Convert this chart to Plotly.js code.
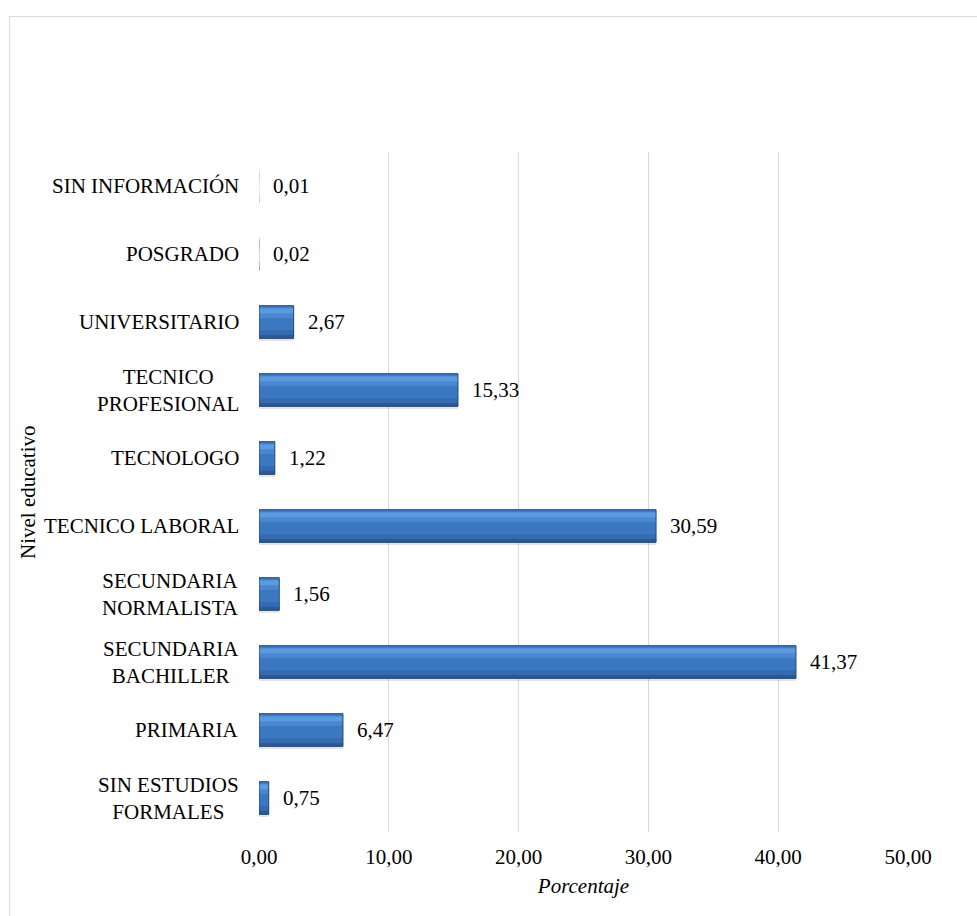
<!DOCTYPE html>
<html>
<head>
<meta charset="utf-8">
<script src="https://cdn.plot.ly/plotly-3.0.1.min.js"></script>
<style>
  html, body { margin: 0; padding: 0; background: #ffffff; overflow: hidden; }
  #frame { position: absolute; left: 9px; top: 16px; width: 1200px; height: 1200px; border: 1px solid #d9d9d9; box-sizing: border-box; pointer-events: none; }
  #chart { position: absolute; left: 0; top: 0; width: 977px; height: 916px; }
</style>
</head>
<body>
<div id="frame"></div>
<div id="chart"></div>
<script>
// Categories (bottom to top)
const categories = [
  "SIN ESTUDIOS FORMALES",
  "PRIMARIA",
  "SECUNDARIA BACHILLER",
  "SECUNDARIA NORMALISTA",
  "TECNICO LABORAL",
  "TECNOLOGO",
  "TECNICO PROFESIONAL",
  "UNIVERSITARIO",
  "POSGRADO",
  "SIN INFORMACIÓN"
];
const categoryLabels = [
  "SIN ESTUDIOS<br>FORMALES",
  "PRIMARIA",
  "SECUNDARIA<br>BACHILLER",
  "SECUNDARIA<br>NORMALISTA",
  "TECNICO LABORAL",
  "TECNOLOGO",
  "TECNICO<br>PROFESIONAL",
  "UNIVERSITARIO",
  "POSGRADO",
  "SIN INFORMACIÓN"
];
const values = [0.75, 6.47, 41.37, 1.56, 30.59, 1.22, 15.33, 2.67, 0.02, 0.01];
const xTickValues = [0, 10, 20, 30, 40, 50];

const FONT = "Liberation Serif";
const fmt = v => v.toFixed(2).replace('.', ',');

const BAR_W = 0.48;
const outlineWidths = values.map(v => (v < 0.1 ? 0 : 1));
const traces = [
  // soft shadow below bars
  { type: 'bar', orientation: 'h', x: values, y: categories,
    width: 0.05, offset: -0.28,
    marker: { color: 'rgba(0,0,0,0.10)', line: { width: 0 } }, hoverinfo: 'skip' },
  { type: 'bar', orientation: 'h', x: values, y: categories,
    width: BAR_W, offset: -BAR_W / 2,
    marker: { color: '#3c77c1', line: { width: 0 } }, hoverinfo: 'skip' },
  // top highlight
  { type: 'bar', orientation: 'h', x: values, y: categories,
    width: 0.15, offset: 0.06,
    marker: { color: '#4a87cf', line: { width: 0 } }, hoverinfo: 'skip' },
  { type: 'bar', orientation: 'h', x: values, y: categories,
    width: 0.07, offset: 0.13,
    marker: { color: '#5d9be0', line: { width: 0 } }, hoverinfo: 'skip' },
  // bottom shade
  { type: 'bar', orientation: 'h', x: values, y: categories,
    width: 0.12, offset: -0.24,
    marker: { color: '#346bb1', line: { width: 0 } }, hoverinfo: 'skip' },
  { type: 'bar', orientation: 'h', x: values, y: categories,
    width: 0.05, offset: -0.24,
    marker: { color: '#2a5993', line: { width: 0 } }, hoverinfo: 'skip' },
  // outline
  { type: 'bar', orientation: 'h', x: values, y: categories,
    width: BAR_W, offset: -BAR_W / 2,
    marker: { color: 'rgba(0,0,0,0)', line: { width: outlineWidths, color: '#234a7a' } }, hoverinfo: 'skip' }
];

const annotations = [];
categories.forEach((c, i) => {
  annotations.push({
    xref: 'paper', yref: 'y', x: 0, y: c, xanchor: 'right', yanchor: 'middle',
    xshift: -18, text: categoryLabels[i], showarrow: false, align: 'center',
    font: { family: FONT, size: 21, color: '#000000' }
  });
  annotations.push({
    xref: 'x', yref: 'y', x: values[i], y: c, xanchor: 'left', yanchor: 'middle',
    xshift: 12, text: fmt(values[i]), showarrow: false,
    font: { family: FONT, size: 21, color: '#000000' }
  });
});
annotations.push({
  xref: 'paper', yref: 'paper', x: 0, y: 0.5, xanchor: 'center', yanchor: 'middle',
  xshift: -231, textangle: -90, text: 'Nivel educativo', showarrow: false,
  font: { family: FONT, size: 21, color: '#000000' }
});

const layout = {
  width: 977, height: 916,
  margin: { l: 259, r: 69, t: 152, b: 84 },
  paper_bgcolor: 'rgba(0,0,0,0)', plot_bgcolor: 'rgba(0,0,0,0)',
  barmode: 'overlay',
  showlegend: false,
  separators: ',.',
  font: { family: FONT, size: 21, color: '#000000' },
  xaxis: {
    range: [0, 50], tickvals: xTickValues, ticktext: xTickValues.map(fmt),
    showgrid: true, gridcolor: '#d9d9d9', gridwidth: 1,
    zeroline: false, showline: false, ticks: '',
    ticklabelstandoff: 10,
    tickfont: { family: FONT, size: 21, color: '#000000' },
    title: { text: '<i>Porcentaje</i>', font: { family: FONT, size: 21, color: '#000000' }, standoff: 10 },
    fixedrange: true
  },
  yaxis: {
    type: 'category', categoryorder: 'array', categoryarray: categories,
    range: [-0.5, categories.length - 0.5],
    showticklabels: false, showgrid: false, zeroline: false, showline: false, ticks: '',
    fixedrange: true
  },
  annotations: annotations
};

Plotly.newPlot('chart', traces, layout, { displayModeBar: false, staticPlot: true });
</script>
</body>
</html>
